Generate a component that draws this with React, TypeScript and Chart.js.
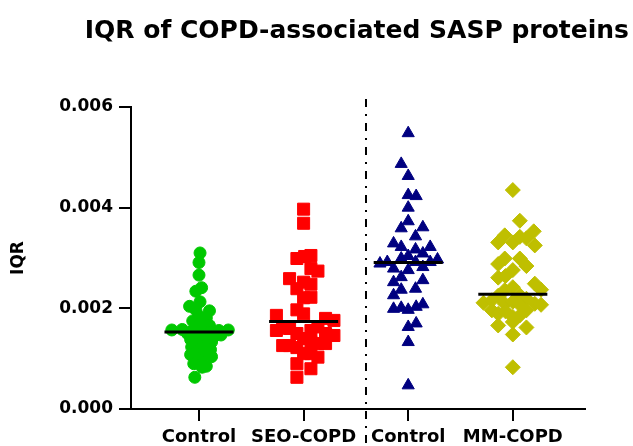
import React, { useEffect, useRef } from "react";
import { Chart, registerables } from "chart.js";

Chart.register(...registerables);

const TITLE = "IQR of COPD-associated SASP proteins";
const Y_TITLE = "IQR";
const X_LABELS = ["Control", "SEO-COPD", "Control", "MM-COPD"];
const X_POSITIONS = [1, 2, 3, 4];
const Y_TICKS = [0, 0.002, 0.004, 0.006];
const DIVIDER_X = 2.6;
const MEDIANS = [0.00153, 0.00174, 0.00291, 0.00228];
const MEDIAN_HALF_WIDTH = 0.33;

const CONTROL_SEO_VALUES = [
  0.0031, 0.00291, 0.00266, 0.00241, 0.00234, 0.00213, 0.00204, 0.00197, 0.00195, 0.00185,
  0.00181, 0.00175, 0.0017, 0.00166, 0.0016, 0.00157, 0.00158, 0.00154, 0.00155, 0.00153,
  0.00156, 0.00157, 0.00147, 0.0015, 0.00145, 0.00143, 0.00138, 0.00136, 0.00133, 0.0013,
  0.00127, 0.00123, 0.0012, 0.00118, 0.00112, 0.00108, 0.00106, 0.00104, 0.00098, 0.0009,
  0.00085, 0.00083, 0.00063,
];
const CONTROL_SEO_JITTER = [
  0.01, 0.0, 0.0, 0.025, -0.03, 0.01, -0.09, -0.03, 0.1, 0.0,
  0.07, -0.06, 0.01, 0.1, -0.04, -0.26, -0.16, -0.07, 0.03, 0.11,
  0.19, 0.28, 0.21, -0.11, 0.0, 0.14, -0.08, 0.05, 0.12, -0.02,
  0.08, -0.07, 0.02, 0.11, -0.04, -0.08, 0.04, 0.12, 0.0, -0.05,
  0.07, 0.03, -0.04,
];

const SEO_COPD_VALUES = [
  0.00397, 0.00369, 0.00299, 0.00303, 0.00305, 0.00279, 0.00274, 0.00259, 0.00252, 0.00248,
  0.00239, 0.00221, 0.00222, 0.00197, 0.00186, 0.00189, 0.0018, 0.00176, 0.00156, 0.0016,
  0.00161, 0.00163, 0.00156, 0.0015, 0.00146, 0.0015, 0.0014, 0.00126, 0.00126, 0.0013,
  0.0013, 0.00133, 0.00122, 0.0011, 0.0011, 0.00103, 0.0009, 0.0008, 0.00063,
];
const SEO_COPD_JITTER = [
  0.0, 0.0, -0.064, 0.01, 0.07, 0.07, 0.137, -0.134, 0.0, 0.07,
  -0.064, 0.0, 0.07, -0.064, -0.26, 0.0, 0.21, 0.29, -0.26, -0.134,
  -0.2, 0.137, 0.07, 0.21, 0.29, -0.064, 0.0, -0.2, -0.134, 0.137,
  0.21, 0.07, -0.064, 0.0, 0.07, 0.137, -0.064, 0.07, -0.064,
];

const CONTROL_MM_VALUES = [
  0.00548, 0.00487, 0.00463, 0.00425, 0.00423, 0.004, 0.00373, 0.00359, 0.00361, 0.00343,
  0.00329, 0.00322, 0.00317, 0.00322, 0.00309, 0.00304, 0.00299, 0.00289, 0.00292, 0.00292,
  0.00292, 0.00297, 0.00279, 0.00276, 0.00282, 0.00262, 0.00252, 0.00256, 0.00237, 0.00239,
  0.00226, 0.00199, 0.00201, 0.00197, 0.00203, 0.00208, 0.00163, 0.0017, 0.00133, 0.00047,
];
const CONTROL_MM_JITTER = [
  0, -0.067, 0, 0, 0.076, 0, 0, -0.067, 0.14, 0.07,
  -0.14, -0.067, 0.07, 0.21, 0.14, 0, -0.067, -0.27, -0.2, 0.07,
  0.21, 0.28, -0.14, 0, 0.14, -0.067, -0.14, 0.14, -0.067, 0.07,
  -0.14, -0.14, -0.067, 0, 0.076, 0.14, 0, 0.076, 0, 0,
];

const MM_COPD_VALUES = [
  0.00435, 0.00374, 0.00353, 0.00345, 0.00331, 0.00331, 0.00342, 0.00339, 0.00325, 0.00299,
  0.00299, 0.00288, 0.00284, 0.00276, 0.00261, 0.00264, 0.00249, 0.00242, 0.00237, 0.00236,
  0.00226, 0.00225, 0.00219, 0.00211, 0.00216, 0.00209, 0.00213, 0.00207, 0.00209, 0.00207,
  0.00196, 0.00189, 0.00194, 0.00183, 0.00186, 0.00196, 0.00166, 0.00173, 0.00162, 0.00148,
  0.00083,
];
const MM_COPD_JITTER = [
  0, 0.067, 0.2, -0.077, -0.14, 0, 0.067, 0.13, 0.21, -0.077,
  0.067, -0.14, 0.13, 0, -0.14, -0.07, 0.21, 0, 0.27, -0.077,
  0.067, -0.14, 0.13, -0.28, -0.2, -0.077, 0, 0.067, 0.21, 0.27,
  -0.2, -0.14, -0.07, 0, 0.067, 0.13, -0.14, 0, 0.13, 0,
  0,
];

const GROUPS = [
  { values: CONTROL_SEO_VALUES, jitter: CONTROL_SEO_JITTER, color: "rgb(0,200,0)", style: "circle", radius: 6 },
  { values: SEO_COPD_VALUES, jitter: SEO_COPD_JITTER, color: "rgb(255,0,0)", style: "rect", radius: 8.5 },
  { values: CONTROL_MM_VALUES, jitter: CONTROL_MM_JITTER, color: "rgb(0,0,128)", style: "triangle", radius: 7 },
  { values: MM_COPD_VALUES, jitter: MM_COPD_JITTER, color: "rgb(191,191,0)", style: "rectRot", radius: 7.5 },
];

const FONT = "'DejaVu Sans', 'Liberation Sans', Arial, sans-serif";

const dividerPlugin = {
  id: "divider",
  afterDraw(chart: any) {
    const { ctx, chartArea } = chart;
    const xs = chart.scales.x;
    const px = Math.round(xs.getPixelForValue(DIVIDER_X));
    ctx.save();
    ctx.strokeStyle = "#000";
    ctx.lineWidth = 2;
    ctx.setLineDash([8, 7, 2, 7]);
    ctx.beginPath();
    ctx.moveTo(px, chartArea.top - 8);
    ctx.lineTo(px, chart.height);
    ctx.stroke();
    ctx.restore();
  },
};

export default function App() {
  const ref = useRef<HTMLCanvasElement | null>(null);

  useEffect(() => {
    const canvas = ref.current;
    if (!canvas) return;

    const medianSets = MEDIANS.map((m, i) => ({
      data: [
        { x: X_POSITIONS[i] - MEDIAN_HALF_WIDTH, y: m },
        { x: X_POSITIONS[i] + MEDIAN_HALF_WIDTH, y: m },
      ],
      showLine: true,
      borderColor: "#000",
      borderWidth: 3,
      pointRadius: 0,
      order: 0,
    }));

    const pointSets = GROUPS.map((g, i) => ({
      data: g.values.map((v, j) => ({ x: X_POSITIONS[i] + g.jitter[j], y: v })),
      pointStyle: g.style,
      pointRadius: g.radius,
      backgroundColor: g.color,
      borderColor: g.color,
      borderWidth: 1,
      showLine: false,
      order: 1,
    }));

    const chart = new Chart(canvas, {
      type: "scatter",
      data: { datasets: [...medianSets, ...pointSets] as any },
      options: {
        animation: false,
        responsive: false,
        devicePixelRatio: 1,
        layout: { padding: { top: 0, right: 4, bottom: 0, left: 0 } },
        plugins: {
          legend: { display: false },
          tooltip: { enabled: false },
          title: {
            display: true,
            text: TITLE,
            align: "end",
            color: "#000",
            font: { family: FONT, size: 25, weight: "bold" },
            padding: { top: 16, bottom: 61 },
          },
        },
        scales: {
          x: {
            type: "linear",
            min: 0.35,
            max: 4.69,
            afterBuildTicks: (s: any) => {
              s.ticks = X_POSITIONS.map((v) => ({ value: v }));
            },
            afterFit: (s: any) => {
              s.height = 37;
            },
            ticks: {
              autoSkip: false,
              maxRotation: 0,
              minRotation: 0,
              color: "#000",
              padding: 6,
              font: { family: FONT, size: 18, weight: "bold" },
              callback: (_v: any, i: number) => X_LABELS[i],
            },
            grid: { drawOnChartArea: false, drawTicks: true, tickLength: 12, color: "#000", lineWidth: 2 },
            border: { display: true, color: "#000", width: 2 },
          },
          y: {
            type: "linear",
            min: 0,
            max: 0.006,
            afterBuildTicks: (s: any) => {
              s.ticks = Y_TICKS.map((v) => ({ value: v }));
            },
            afterFit: (s: any) => {
              s.width = 131;
            },
            ticks: {
              color: "#000",
              padding: 6,
              font: { family: FONT, size: 17, weight: "bold" },
              callback: (v: any) => Number(v).toFixed(3),
            },
            grid: { drawOnChartArea: false, drawTicks: true, tickLength: 12, color: "#000", lineWidth: 2 },
            border: { display: true, color: "#000", width: 2 },
            title: {
              display: true,
              text: Y_TITLE,
              color: "#000",
              font: { family: FONT, size: 17, weight: "bold" },
              padding: { top: 8, bottom: 0 },
            },
          },
          y2: {
            type: "linear",
            position: "right",
            display: true,
            afterFit: (s: any) => {
              s.width = 44;
            },
            ticks: { display: false },
            grid: { display: false, drawTicks: false },
            border: { display: false },
          },
        },
      },
      plugins: [dividerPlugin],
    } as any);

    return () => chart.destroy();
  }, []);

  return (
    <div style={{ position: "fixed", left: 0, top: 0, width: 633, height: 446, background: "#fff" }}>
      <canvas ref={ref} width={633} height={446} />
    </div>
  );
}
